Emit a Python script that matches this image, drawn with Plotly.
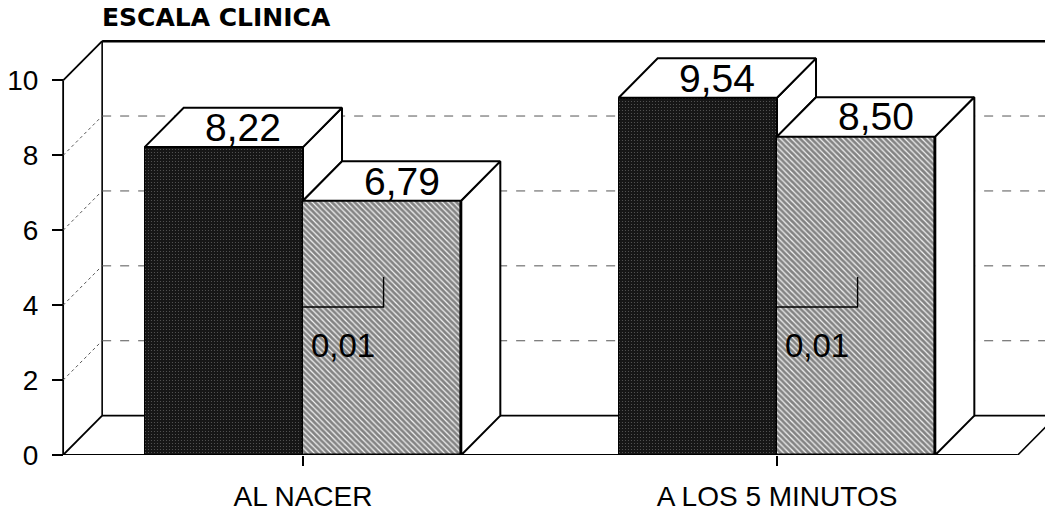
import plotly.graph_objects as go

# ---- data ----
CATEGORIES = ["AL NACER", "A LOS 5 MINUTOS"]
SERIES_DARK = [8.22, 9.54]
SERIES_HATCH = [6.79, 8.50]
P_VALUES = ["0,01", "0,01"]
Y_TICKS = [0, 2, 4, 6, 8, 10]
TITLE = "ESCALA CLINICA"

# ---- geometry (data units) ----
BAR_W = 0.334          # width of each bar
DX, DY = 0.0823, 1.05  # depth offset of the 3-D box
AXIS_X = -0.506        # front vertical axis
FLOOR_R = 1.508        # right front corner of the floor
X_RANGE = [-0.6392, 1.5654]
Y_MAX = 10
Y_RANGE = [0, Y_MAX + DY + 0.03]

FONT = "Liberation Sans, Arial, Helvetica, sans-serif"
INK = "black"


def fmt(v):
    return f"{v:.2f}".replace(".", ",")


fig = go.Figure()
shapes = []


def seg(x0, y0, x1, y1, width=1.6, dash="solid", color=INK):
    shapes.append(dict(type="line", xref="x", yref="y", x0=x0, y0=y0, x1=x1, y1=y1,
                       layer="below", line=dict(color=color, width=width, dash=dash)))


# walls and floor
back_l = AXIS_X + DX
back_r = FLOOR_R + DX
seg(AXIS_X, 0, AXIS_X, Y_MAX, 1.8)                  # front axis
seg(AXIS_X, Y_MAX, back_l, Y_MAX + DY, 1.8)         # left wall top edge
seg(AXIS_X, 0, back_l, DY, 1.8)                     # left wall bottom edge
seg(back_l, DY, back_l, Y_MAX + DY, 1.6)            # back wall left edge
seg(back_l, Y_MAX + DY, back_r + 0.2, Y_MAX + DY, 2.6)  # back wall top
seg(AXIS_X, 0, FLOOR_R, 0, 2.0)                     # floor front edge
seg(back_l, DY, back_r, DY, 1.6)                    # floor back edge
seg(FLOOR_R, 0, back_r, DY, 1.6)                    # floor right edge
for v in Y_TICKS[1:-1]:
    seg(AXIS_X, v, back_l, v + DY, 1.0, "dot", "#555555")
    seg(back_l, v + DY, back_r + 0.2, v + DY, 1.0, "dash", "#555555")

groups = list(range(len(CATEGORIES)))
x_dark = [g - BAR_W / 2 for g in groups]
x_hatch = [g + BAR_W / 2 for g in groups]

fig.add_trace(go.Bar(
    x=x_dark, y=SERIES_DARK, width=BAR_W, showlegend=False,
    marker=dict(color="#1c1c1c",
                line=dict(color=INK, width=1),
                pattern=dict(shape=".", fgcolor="#9c9c9c", bgcolor="#161616",
                             size=3, solidity=0.12)),
    hoverinfo="skip"))
fig.add_trace(go.Bar(
    x=x_hatch, y=SERIES_HATCH, width=BAR_W, showlegend=False,
    marker=dict(color="#666666",
                line=dict(color=INK, width=1.6),
                pattern=dict(shape="\\", fgcolor="#111111", bgcolor="#f4f4f4",
                             size=4, solidity=0.7)),
    hoverinfo="skip"))


def face(xs, ys):
    fig.add_trace(go.Scatter(
        x=xs + [xs[0]], y=ys + [ys[0]], mode="lines", fill="toself",
        fillcolor="white", line=dict(color=INK, width=2),
        showlegend=False, hoverinfo="skip"))


annotations = []
for g, v1, v2, p in zip(groups, SERIES_DARK, SERIES_HATCH, P_VALUES):
    x0, xb, x1 = g - BAR_W, g, g + BAR_W
    # visible part of the dark bar's right side
    if v1 > v2:
        face([xb, xb + DX, xb + DX, xb], [v1, v1 + DY, v2 + DY, v2])
    # top faces
    face([x0, xb, xb + DX, x0 + DX], [v1, v1, v1 + DY, v1 + DY])
    face([xb, x1, x1 + DX, xb + DX], [v2, v2, v2 + DY, v2 + DY])
    # right side of the hatched bar
    face([x1, x1 + DX, x1 + DX, x1], [0, DY, v2 + DY, v2])

    for xc, v in ((g - BAR_W / 2, v1), (g + BAR_W / 2, v2)):
        annotations.append(dict(
            x=xc + DX / 2, y=v + DY / 2, xref="x", yref="y", text=fmt(v),
            showarrow=False, xanchor="center", yanchor="middle",
            font=dict(family=FONT, size=39, color=INK)))

    # significance marker
    fig.add_trace(go.Scatter(
        x=[g, g + 0.17, g + 0.17], y=[3.95, 3.95, 4.75], mode="lines",
        line=dict(color=INK, width=1.4), showlegend=False, hoverinfo="skip"))
    annotations.append(dict(
        x=g + 0.012, y=2.92, xref="x", yref="y", text=p, showarrow=False,
        xanchor="left", yanchor="middle",
        font=dict(family=FONT, size=33, color=INK)))

fig.update_layout(
    width=1045, height=512,
    margin=dict(l=0, r=0, t=40, b=51),
    paper_bgcolor="white", plot_bgcolor="white",
    barmode="overlay", bargap=0,
    shapes=shapes, annotations=annotations,
    title=dict(text=TITLE, x=102 / 1045, xanchor="left", xref="paper",
               y=1 - 17 / 512, yanchor="middle", yref="container",
               font=dict(family="DejaVu Sans, " + FONT, size=25, color=INK, weight="bold")),
    xaxis=dict(range=X_RANGE, tickvals=groups, ticktext=CATEGORIES,
               ticks="outside", ticklen=10, tickwidth=1.5, tickcolor=INK,
               showgrid=False, zeroline=False, showline=False,
               tickfont=dict(family=FONT, size=28, color=INK),
               ticklabelstandoff=6, fixedrange=True),
    yaxis=dict(range=Y_RANGE, tickvals=Y_TICKS, ticktext=[str(t) for t in Y_TICKS],
               anchor="free", position=63 / 1045,
               ticks="outside", ticklen=11, tickwidth=1.6, tickcolor=INK,
               showgrid=False, zeroline=False, showline=False,
               tickfont=dict(family=FONT, size=28, color=INK),
               ticklabelstandoff=8, automargin=False, fixedrange=True),
)

fig.write_html("out.html")
